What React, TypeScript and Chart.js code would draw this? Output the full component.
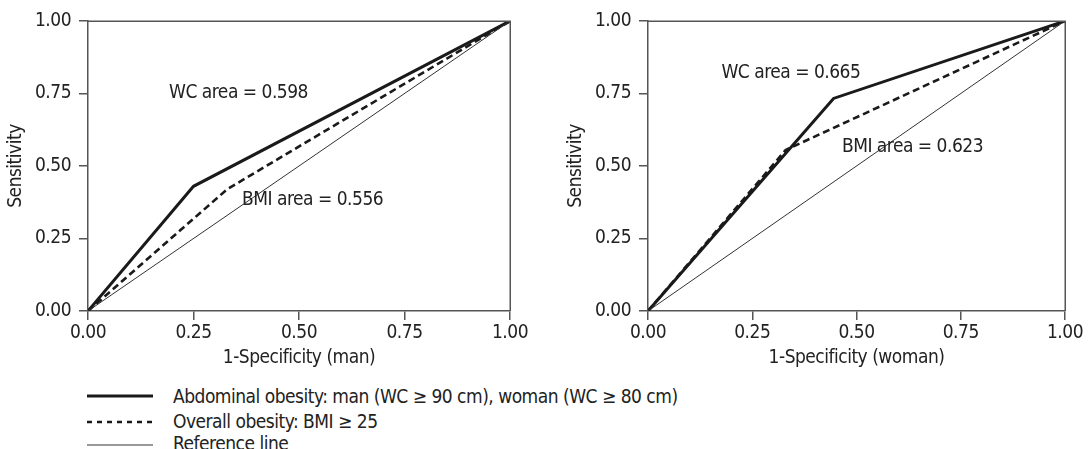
import React, { useEffect, useRef } from "react";
import { Chart, registerables } from "chart.js";

Chart.register(...registerables);

// ---------- data ----------
const axisTicks = [0, 0.25, 0.5, 0.75, 1];

const manWcX = [0, 0.25, 1];
const manWcY = [0, 0.43, 1];
const manBmiX = [0, 0.33, 1];
const manBmiY = [0, 0.42, 1];

const womanWcX = [0, 0.445, 1];
const womanWcY = [0, 0.733, 1];
const womanBmiX = [0, 0.33, 1];
const womanBmiY = [0, 0.555, 1];

const refX = [0, 1];
const refY = [0, 1];

const manLabels = ["WC area = 0.598", "BMI area = 0.556"];
const manLabelAt = [
  [0.192, 0.75],
  [0.365, 0.384],
];
const womanLabels = ["WC area = 0.665", "BMI area = 0.623"];
const womanLabelAt = [
  [0.176, 0.822],
  [0.465, 0.566],
];

const legendLabels = [
  "Abdominal obesity: man (WC \u2265 90 cm), woman (WC \u2265 80 cm)",
  "Overall obesity: BMI \u2265 25",
  "Reference line",
];

// ---------- styles ----------
const FONT = '"Liberation Sans Narrow", "DejaVu Sans Condensed", "Arial Narrow", sans-serif';
const FSIZE = 19;
const LS = "-0.5px";
const TEXT = "#222";
const AXIS = "#555";
const LINE = "#1a1a1a";

const spacingPlugin = {
  id: "letterSpacing",
  beforeUpdate(chart: any) {
    chart.ctx.letterSpacing = LS;
  },
  beforeLayout(chart: any) {
    chart.ctx.letterSpacing = LS;
  },
  beforeDraw(chart: any) {
    chart.ctx.letterSpacing = LS;
  },
};
Chart.register(spacingPlugin);

const pts = (xs: number[], ys: number[]) => xs.map((x, i) => ({ x, y: ys[i] }));

function makeConfig(
  wcX: number[], wcY: number[], bmiX: number[], bmiY: number[],
  xTitle: string, labels: string[], labelAt: number[][], padRight: number
): any {
  const framePlugin = {
    id: "frameAndText",
    afterDraw(chart: any) {
      const { ctx, chartArea: a, scales } = chart;
      ctx.save();
      ctx.strokeStyle = AXIS;
      ctx.lineWidth = 1.5;
      ctx.beginPath();
      ctx.moveTo(Math.round(a.left), Math.round(a.top) + 0.25);
      ctx.lineTo(Math.round(a.right) + 0.25, Math.round(a.top) + 0.25);
      ctx.lineTo(Math.round(a.right) + 0.25, Math.round(a.bottom));
      ctx.stroke();
      ctx.fillStyle = TEXT;
      ctx.font = `${FSIZE}px ${FONT}`;
      ctx.letterSpacing = LS;
      ctx.textAlign = "left";
      ctx.textBaseline = "middle";
      labels.forEach((t, i) => {
        const px = scales.x.getPixelForValue(labelAt[i][0]);
        const py = scales.y.getPixelForValue(labelAt[i][1]);
        ctx.fillText(t, px, py);
      });
      ctx.restore();
    },
  };
  const tickFont = { family: FONT, size: FSIZE };
  return {
    type: "line",
    data: {
      datasets: [
        {
          data: pts(refX, refY),
          borderColor: "#333",
          borderWidth: 1,
          pointRadius: 0,
          tension: 0,
        },
        {
          data: pts(bmiX, bmiY),
          borderColor: LINE,
          borderWidth: 2.6,
          borderDash: [7, 4],
          pointRadius: 0,
          tension: 0,
        },
        {
          data: pts(wcX, wcY),
          borderColor: LINE,
          borderWidth: 3,
          pointRadius: 0,
          tension: 0,
        },
      ],
    },
    options: {
      animation: false,
      responsive: false,
      events: [],
      layout: { padding: { left: 0, right: padRight, top: 21, bottom: 0 } },
      plugins: { legend: { display: false }, tooltip: { enabled: false } },
      scales: {
        x: {
          type: "linear",
          min: 0,
          max: 1,
          afterBuildTicks: (s: any) => {
            s.ticks = axisTicks.map((v) => ({ value: v }));
          },
          ticks: {
            callback: (v: any) => Number(v).toFixed(2),
            font: tickFont,
            color: TEXT,
            padding: 2,
            maxRotation: 0,
            autoSkip: false,
          },
          grid: { drawOnChartArea: false, drawTicks: true, tickLength: 9, color: AXIS, lineWidth: 1.5 },
          border: { display: true, color: AXIS, width: 1.5 },
          title: { display: true, text: xTitle, font: tickFont, color: TEXT, padding: { top: 0, bottom: 11 } },
          afterFit: (s: any) => {
            s.height = 69;
          },
        },
        y: {
          type: "linear",
          min: 0,
          max: 1,
          afterBuildTicks: (s: any) => {
            s.ticks = axisTicks.map((v) => ({ value: v }));
          },
          ticks: {
            callback: (v: any) => Number(v).toFixed(2),
            font: tickFont,
            color: TEXT,
            padding: 8,
            autoSkip: false,
          },
          grid: { drawOnChartArea: false, drawTicks: true, tickLength: 9, color: AXIS, lineWidth: 1.5 },
          border: { display: true, color: AXIS, width: 1.5 },
          title: { display: true, text: "Sensitivity", font: tickFont, color: TEXT, padding: { top: 5, bottom: 0 } },
          afterFit: (s: any) => {
            s.width = 88;
          },
        },
      },
    },
    plugins: [framePlugin],
  };
}

function Legend() {
  const textRows = [396, 421, 443];
  const lineRows = [396, 422, 445];
  return (
    <div style={{ position: "absolute", left: 0, top: 0 }}>
      {legendLabels.map((t, i) => (
        <React.Fragment key={i}>
          <svg width={70} height={10} style={{ position: "absolute", left: 86, top: lineRows[i] - 5 }}>
            <line
              x1={1}
              x2={67}
              y1={5}
              y2={5}
              stroke={i === 2 ? "#777" : LINE}
              strokeWidth={i === 0 ? 3 : i === 1 ? 2.5 : 1.5}
              strokeDasharray={i === 1 ? "5 5" : undefined}
            />
          </svg>
          <span
            style={{
              position: "absolute",
              left: 173,
              top: textRows[i] - 13,
              height: 26,
              lineHeight: "26px",
              fontFamily: FONT,
              fontSize: FSIZE,
              letterSpacing: LS,
              color: TEXT,
              whiteSpace: "nowrap",
            }}
          >
            {t}
          </span>
        </React.Fragment>
      ))}
    </div>
  );
}

export default function App() {
  const leftRef = useRef<HTMLCanvasElement>(null);
  const rightRef = useRef<HTMLCanvasElement>(null);

  useEffect(() => {
    const c1 = new Chart(
      leftRef.current as HTMLCanvasElement,
      makeConfig(manWcX, manWcY, manBmiX, manBmiY, "1-Specificity (man)", manLabels, manLabelAt, 30)
    );
    const c2 = new Chart(
      rightRef.current as HTMLCanvasElement,
      makeConfig(womanWcX, womanWcY, womanBmiX, womanBmiY, "1-Specificity (woman)", womanLabels, womanLabelAt, 24)
    );
    return () => {
      c1.destroy();
      c2.destroy();
    };
  }, []);

  return (
    <div
      style={{
        position: "absolute",
        left: 0,
        top: 0,
        width: 1089,
        height: 449,
        overflow: "hidden",
        background: "#fff",
      }}
    >
      <canvas ref={leftRef} width={540} height={380} style={{ position: "absolute", left: 0, top: 0, width: 540, height: 380 }} />
      <canvas ref={rightRef} width={529} height={380} style={{ position: "absolute", left: 560, top: 0, width: 529, height: 380 }} />
      <Legend />
    </div>
  );
}
